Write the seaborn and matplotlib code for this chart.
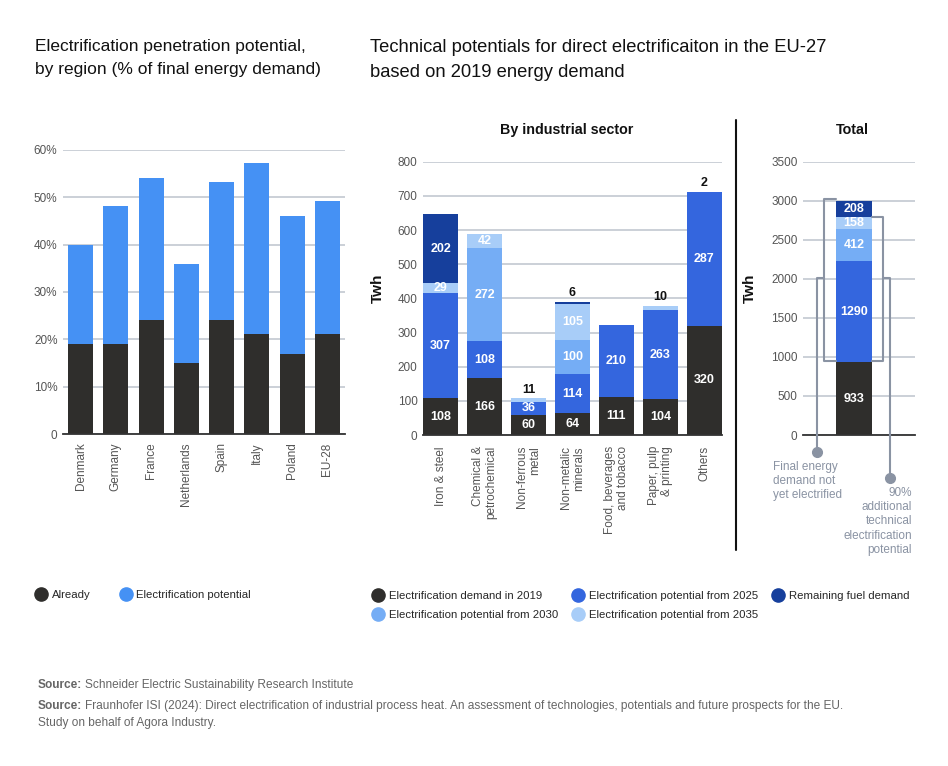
import matplotlib
matplotlib.use("Agg")
import matplotlib.pyplot as plt
import seaborn as sns
import numpy as np
import pandas as pd
from matplotlib.lines import Line2D

# ---------------- data ----------------
regions = ["Denmark", "Germany", "France", "Netherlands", "Spain", "Italy", "Poland", "EU-28"]
already = [19, 19, 24, 15, 24, 21.2, 17, 21.2]
region_total = [40, 48.2, 54, 36, 53.3, 57.3, 46, 49.3]

sectors = ["Iron & steel", "Chemical &\npetrochemical", "Non-ferrous\nmetal", "Non-metalic\nminerals",
           "Food, beverages\nand tobacco", "Paper, pulp\n& printing", "Others"]
demand_2019 = [108, 166, 60, 64, 111, 104, 320]
pot_2025 = [307, 108, 36, 114, 210, 263, 390]          # drawn heights
pot_2025_labels = [307, 108, 36, 114, 210, 263, 287]   # printed labels
pot_2030 = [0, 272, 0, 100, 0, 0, 0]
pot_2035 = [29, 42, 11, 105, 0, 10, 2]
remaining = [202, 0, 0, 6, 0, 0, 0]

total_cat = ["Total"]
total_2019 = [933]
total_2025 = [1290]
total_2030 = [412]
total_2035 = [158]
total_remaining = [208]

# ---------------- style ----------------
sns.set_theme(style="white")
plt.rcParams['font.family'] = ['Liberation Sans', 'DejaVu Sans']

C_BLACK = "#2f2e2c"
C_LBLUE = "#4591f4"
C_2025 = "#3466de"
C_2030 = "#75adf5"
C_2035 = "#a8cdf8"
C_REM = "#163f9c"
GRID = "#c2c8d1"
TICK = "#555555"
ANN = "#8a93a3"

fig = plt.figure(figsize=(9.48, 7.66), dpi=100)
W, H = 948, 766

def ax_rect(x0, y_top, x1, y_bot):
    return [x0 / W, 1 - y_bot / H, (x1 - x0) / W, (y_bot - y_top) / H]

def style_axis(ax, yticks, ylabels, xpad=9):
    ax.set_yticks(yticks)
    ax.set_yticklabels(ylabels, fontsize=8.5, color=TICK)
    ax.yaxis.grid(True, color=GRID, lw=1.2)
    ax.xaxis.grid(False)
    ax.set_axisbelow(True)
    for s in ["top", "right", "left"]:
        ax.spines[s].set_visible(False)
    ax.spines["bottom"].set_color("#333333")
    ax.spines["bottom"].set_linewidth(1.3)
    ax.tick_params(axis="y", length=0, pad=4)
    ax.tick_params(axis="x", length=0, pad=xpad)
    ax.set_xlabel("")
    ax.set_ylabel("")

def stacked(ax, cats, layers, colors, width):
    cums = np.cumsum(np.array(layers, dtype=float), axis=0)
    for i in range(len(layers) - 1, -1, -1):
        sns.barplot(x=cats, y=cums[i], color=colors[i], saturation=1, width=width,
                    ax=ax, errorbar=None, linewidth=0, order=cats)
    return cums

# ---------------- left chart ----------------
ax1 = fig.add_axes(ax_rect(63, 150, 345, 434))
stacked(ax1, regions, [already, list(np.array(region_total) - np.array(already))],
        [C_BLACK, C_LBLUE], 0.71)
ax1.set_ylim(0, 60)
ax1.set_xlim(-0.5, 7.5)
style_axis(ax1, range(0, 61, 10), ["0", "10%", "20%", "30%", "40%", "50%", "60%"], xpad=6)
ax1.set_xticks(range(len(regions)))
ax1.set_xticklabels(regions, rotation=90, fontsize=8.5, color=TICK, va="top", ha="center")

# ---------------- middle chart ----------------
ax2 = fig.add_axes(ax_rect(423, 161.7, 722, 435))
layers = [demand_2019, pot_2025, pot_2030, pot_2035, remaining]
colors = [C_BLACK, C_2025, C_2030, C_2035, C_REM]
cums = stacked(ax2, sectors, layers, colors, 0.8)
ax2.set_ylim(0, 800)
ax2.set_xlim(-0.4, 6.4)
style_axis(ax2, range(0, 801, 100), [str(v) for v in range(0, 801, 100)], xpad=8)
ax2.set_xticks(range(len(sectors)))
ax2.set_xticklabels(sectors, rotation=90, fontsize=8.5, color=TICK, va="top", ha="center",
                    multialignment="right")
ax2.set_ylabel("Twh", fontsize=11, fontweight="bold", color="#111111")
ax2.yaxis.set_label_coords(-0.127, 0.538)

label_layers = [demand_2019, pot_2025_labels, pot_2030, pot_2035, remaining]
for li in range(len(layers)):
    for j in range(len(sectors)):
        h = layers[li][j]
        if h <= 0:
            continue
        top = cums[li][j]
        lab = str(label_layers[li][j])
        if h >= 25:
            ax2.text(j, top - h / 2, lab, ha="center", va="center", color="white",
                     fontsize=9, fontweight="bold")
        else:
            ax2.text(j, cums[-1][j] + 8, lab, ha="center", va="bottom", color="#111111",
                     fontsize=9, fontweight="bold")

# ---------------- total chart ----------------
ax3 = fig.add_axes(ax_rect(803, 161.7, 915, 435))
tl = [total_2019, total_2025, total_2030, total_2035, total_remaining]
tcums = stacked(ax3, total_cat, tl, colors, 0.8)
ax3.set_ylim(0, 3500)
ax3.set_xlim(-1.133, 1.356)
style_axis(ax3, range(0, 3501, 500), [str(v) for v in range(0, 3501, 500)])
ax3.set_xticks([])
ax3.set_ylabel("Twh", fontsize=11, fontweight="bold", color="#111111")
ax3.yaxis.set_label_coords(-0.41, 0.538)
for li in range(len(tl)):
    h = tl[li][0]
    ax3.text(0, tcums[li][0] - h / 2, str(h), ha="center", va="center", color="white",
             fontsize=9, fontweight="bold")

# brackets
lw = 1.5
ax3.plot([-0.4, -0.66, -0.66, -0.4], [3020, 3020, 950, 950], color=ANN, lw=lw, clip_on=False, zorder=5)
ax3.plot([-0.66, -0.815, -0.815], [2006, 2006, -218], color=ANN, lw=lw, clip_on=False, zorder=5)
ax3.plot([0.4, 0.638, 0.638, 0.4], [2788, 2788, 950, 950], color=ANN, lw=lw, clip_on=False, zorder=5)
ax3.plot([0.638, 0.80, 0.80], [2006, 2006, -550], color=ANN, lw=lw, clip_on=False, zorder=5)
ax3.plot([-0.815], [-218], "o", color=ANN, ms=7, clip_on=False, zorder=6)
ax3.plot([0.80], [-550], "o", color=ANN, ms=7, clip_on=False, zorder=6)

fig.text(773 / W, 1 - 461 / H, "Final energy\ndemand not\nyet electrified", ha="left", va="top",
         fontsize=8.5, color=ANN, linespacing=1.25)
fig.text(912 / W, 1 - 487 / H, "90%\nadditional\ntechnical\nelectrification\npotential", ha="right",
         va="top", fontsize=8.5, color=ANN, linespacing=1.25, multialignment="right")

# ---------------- titles ----------------
fig.text(35 / W, 1 - 39 / H, "Electrification penetration potential,\nby region (% of final energy demand)",
         ha="left", va="top", fontsize=12.5, color="#111111", linespacing=1.68)
fig.text(370 / W, 1 - 39 / H, "Technical potentials for direct electrificaiton in the EU-27\nbased on 2019 energy demand",
         ha="left", va="top", fontsize=13.2, color="#111111", linespacing=1.6)
fig.text(567 / W, 1 - 130 / H, "By industrial sector", ha="center", va="center", fontsize=10.3,
         fontweight="bold", color="#111111")
fig.text(852 / W, 1 - 130 / H, "Total", ha="center", va="center", fontsize=10.3,
         fontweight="bold", color="#111111")

# divider
fig.add_artist(Line2D([736 / W, 736 / W], [1 - 120 / H, 1 - 550 / H], color="#111111", lw=1.5))

# ---------------- legends ----------------
def h(c):
    return Line2D([], [], marker="o", ls="", color=c, markersize=9.5)

fig.legend([h(C_BLACK), h(C_LBLUE)], ["Already", "Electrification potential"], ncol=2,
           loc="center left", bbox_to_anchor=(35 / W, 1 - 595 / H), frameon=False, fontsize=8.2,
           handletextpad=0.45, columnspacing=2.6, borderaxespad=0, borderpad=0, handlelength=1.0)
fig.legend([h(C_BLACK), h(C_2030), h(C_2025), h(C_2035), h(C_REM)],
           ["Electrification demand in 2019", "Electrification potential from 2030",
            "Electrification potential from 2025", "Electrification potential from 2035",
            "Remaining fuel demand"], ncol=3,
           loc="upper left", bbox_to_anchor=(372 / W, 1 - 591 / H), frameon=False, fontsize=8.2,
           handletextpad=0.5, columnspacing=1.2, borderaxespad=0, borderpad=0, handlelength=1.0,
           labelspacing=0.75)

# ---------------- sources ----------------
SRC = "#666666"
renderer = fig.canvas.get_renderer()
def source_line(y, rest):
    t = fig.text(38 / W, 1 - y / H, "Source:", ha="left", va="center", fontsize=8.6,
                 fontweight="bold", color=SRC)
    bb = t.get_window_extent(renderer=renderer)
    fig.text(bb.x1 / W + 3 / W, 1 - y / H, rest, ha="left", va="center", fontsize=8.6, color=SRC)

source_line(685, "Schneider Electric Sustainability Research Institute")
source_line(706, "Fraunhofer ISI (2024): Direct electrification of industrial process heat. An assessment of technologies, potentials and future prospects for the EU.")
fig.text(38 / W, 1 - 723 / H, "Study on behalf of Agora Industry.", ha="left", va="center",
         fontsize=8.6, color=SRC)

fig.savefig("out.png", dpi=100)
